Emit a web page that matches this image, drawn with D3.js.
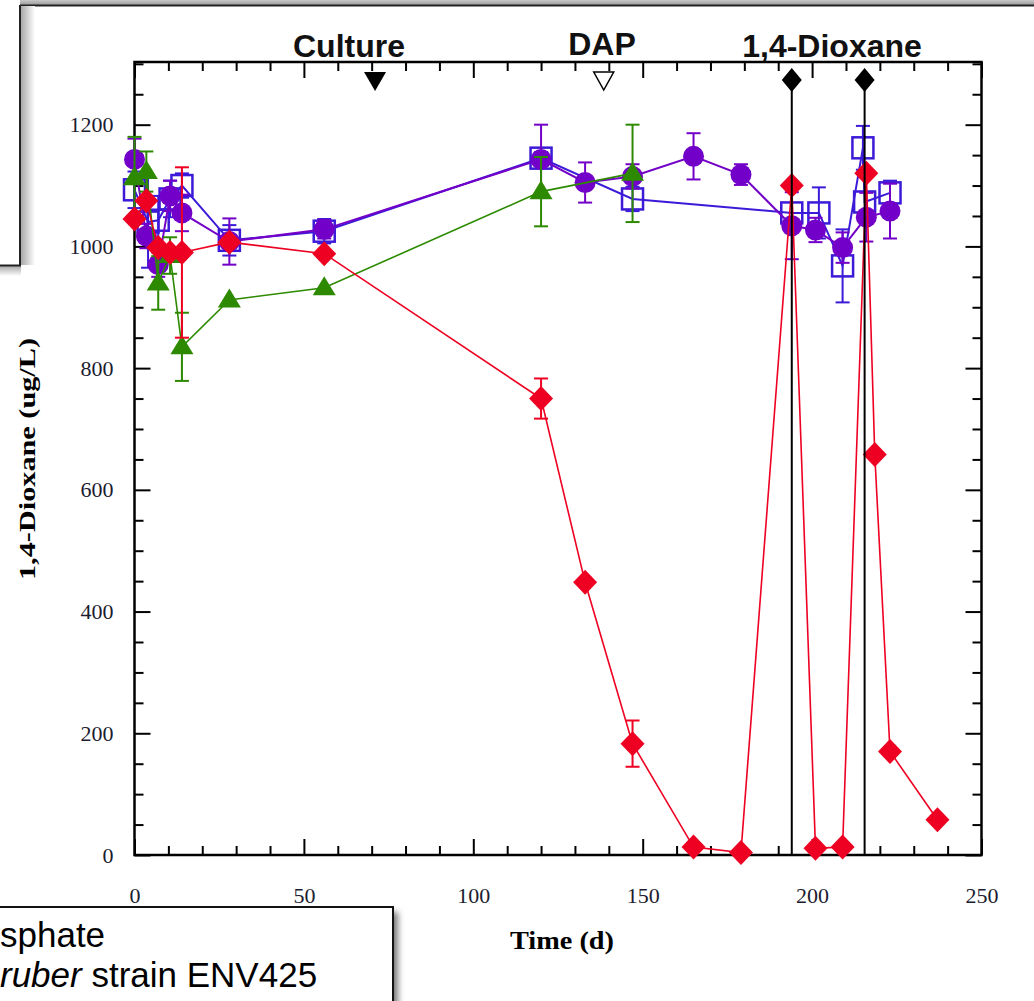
<!DOCTYPE html>
<html><head><meta charset="utf-8">
<script src="https://cdn.jsdelivr.net/npm/d3@7"></script>
<style>body{margin:0;background:#fff;overflow:hidden}svg{display:block}</style>
</head><body>
<svg id="c" width="1034" height="1001"></svg>
<script>
// ---- data ----
const xTickLabels = [0, 50, 100, 150, 200, 250];
const yTickLabels = [0, 200, 400, 600, 800, 1000, 1200];

const redDays = [0, 3.5, 7, 10.5, 14, 28, 56, 120, 133, 147, 165, 179, 194, 201, 209, 216, 218.5, 223, 237];
const redVals = [1045, 1075, 998, 990, 990, 1007, 988, 750, 448, 183, 13, 4, 1100, 11, 13, 1120, 658, 170, 58];
const redErr  = [0, 0, 0, 0, 140, 0, 0, 33, 0, 38, 0, 0, 0, 0, 0, 0, 0, 0, 0];

const greenDays = [0, 3.5, 7, 10.5, 14, 28, 56, 120, 147];
const greenVals = [1113, 1123, 940, 985, 835, 912, 932, 1090, 1120];
const greenErr  = [67, 33, 44, 30, 56, 0, 0, 57, 80];

const purpleDays = [0, 3.5, 7, 10.5, 14, 28, 56, 120, 133, 147, 165, 179, 194, 201, 209, 216, 223];
const purpleVals = [1143, 1017, 970, 1083, 1055, 1008, 1028, 1143, 1105, 1115, 1148, 1118, 1034, 1027, 998, 1048, 1058];
const purpleErr  = [34, 20, 20, 25, 30, 38, 15, 57, 33, 20, 38, 17, 55, 20, 25, 40, 45];

const blueDays = [0, 4, 7, 10.5, 14, 28, 56, 120, 147, 194, 202, 209, 215, 215.5, 223];
const blueVals = [1093, 1040, 1043, 1078, 1100, 1010, 1025, 1145, 1078, 1055, 1055, 968, 1162, 1073, 1088];
const blueErr  = [30, 75, 40, 30, 20, 25, 20, 10, 20, 0, 42, 60, 36, 0, 20];

const cultureDay = 71;
const dapDay = 138.5;
const dioxaneDays = [194, 215.5];

// ---- chart ----
const svg = d3.select("#c");
const x = d3.scaleLinear().domain([0, 250]).range([134.5, 981.5]);
const y = d3.scaleLinear().domain([0, 1303]).range([855, 62]);

// slide decorations
const defs = svg.append("defs");
const g1 = defs.append("linearGradient").attr("id", "shR").attr("x1", 0).attr("x2", 1).attr("y1", 0).attr("y2", 0);
g1.append("stop").attr("offset", 0).attr("stop-color", "#a8a8a8");
g1.append("stop").attr("offset", 1).attr("stop-color", "#ffffff");
const g2 = defs.append("linearGradient").attr("id", "shB").attr("x1", 0).attr("x2", 0).attr("y1", 0).attr("y2", 1);
g2.append("stop").attr("offset", 0).attr("stop-color", "#a8a8a8");
g2.append("stop").attr("offset", 1).attr("stop-color", "#ffffff");
const g3 = defs.append("linearGradient").attr("id", "topBand").attr("x1", 0).attr("x2", 0).attr("y1", 0).attr("y2", 1);
g3.append("stop").attr("offset", 0).attr("stop-color", "#c8c8c8");
g3.append("stop").attr("offset", 1).attr("stop-color", "#9a9a9a");
const f = defs.append("filter").attr("id", "blur").attr("x", "-20%").attr("y", "-20%").attr("width", "140%").attr("height", "140%");
f.append("feGaussianBlur").attr("stdDeviation", 3);

// top gray band
svg.append("rect").attr("x", 20).attr("y", 0).attr("width", 1014).attr("height", 5).attr("fill", "url(#topBand)");
svg.append("line").attr("x1", 20).attr("x2", 1034).attr("y1", 5.5).attr("y2", 5.5).attr("stroke", "#222").attr("stroke-width", 2);
// left box edge with shadow
svg.append("rect").attr("x", 21).attr("y", 6).attr("width", 14).attr("height", 259).attr("fill", "url(#shR)");
svg.append("rect").attr("x", 0).attr("y", 266).attr("width", 21).attr("height", 10).attr("fill", "url(#shB)");
svg.append("path").attr("d", "M20,5 V265.5 H0").attr("fill", "none").attr("stroke", "#222").attr("stroke-width", 2);

// plot axes
const ax = svg.append("g");
const majX = d3.range(0, 251, 50), minX = d3.range(0, 251, 10).filter(d => d % 50);
const majY = d3.range(0, 1301, 200), minY = d3.range(0, 1301, 50).filter(d => d % 200);

function ticks(axisFn, scale, vals, size, tr) {
  const gg = ax.append("g").attr("transform", tr)
    .call(axisFn(scale).tickValues(vals).tickSize(size).tickFormat("").tickSizeOuter(0));
  gg.select(".domain").remove();
  gg.selectAll("line").attr("stroke", "#000").attr("stroke-width", 2);
}
ticks(d3.axisBottom, x, majX, -16, "translate(0,855)");
ticks(d3.axisBottom, x, minX, -9, "translate(0,855)");
ticks(d3.axisTop, x, majX, -16, "translate(0,62)");
ticks(d3.axisTop, x, minX, -9, "translate(0,62)");
ticks(d3.axisLeft, y, majY, -16, "translate(134.5,0)");
ticks(d3.axisLeft, y, minY, -9, "translate(134.5,0)");
ticks(d3.axisRight, y, majY, -16, "translate(981.5,0)");
ticks(d3.axisRight, y, minY, -9, "translate(981.5,0)");

ax.append("rect").attr("x", 134.5).attr("y", 62).attr("width", 847).attr("height", 793)
  .attr("fill", "none").attr("stroke", "#000").attr("stroke-width", 2.5);

const xl = ax.append("g").attr("transform", "translate(0,855)")
  .call(d3.axisBottom(x).tickValues(xTickLabels).tickSize(0).tickPadding(32).tickFormat(d3.format("d")));
xl.select(".domain").remove();
xl.selectAll("text").attr("font-family", "Liberation Serif, Times New Roman, serif").attr("font-size", 22).attr("fill", "#1c1c30");

const yl = ax.append("g").attr("transform", "translate(134.5,0)")
  .call(d3.axisLeft(y).tickValues(yTickLabels).tickSize(0).tickPadding(21).tickFormat(d3.format("d")));
yl.select(".domain").remove();
yl.selectAll("text").attr("font-family", "Liberation Serif, Times New Roman, serif").attr("font-size", 22).attr("fill", "#1c1c30");

// axis titles
svg.append("text").attr("x", 562).attr("y", 949).attr("text-anchor", "middle")
  .attr("font-family", "Liberation Serif, serif").attr("font-weight", "bold").attr("font-size", 25)
  .attr("textLength", 104).attr("lengthAdjust", "spacingAndGlyphs").text("Time (d)");
svg.append("text").attr("transform", "translate(35,459) rotate(-90)").attr("text-anchor", "middle")
  .attr("font-family", "Liberation Serif, serif").attr("font-weight", "bold").attr("font-size", 24)
  .attr("textLength", 242).attr("lengthAdjust", "spacingAndGlyphs").text("1,4-Dioxane (ug/L)");

// series
const diamond = "M0,-12.5 L12,0 L0,12.5 L-12,0 Z";
const triangle = "M0,-11.5 L11.5,7.5 L-11.5,7.5 Z";
const plot = svg.append("g");

function series(days, vals, errs, color, lw, marker) {
  const data = days.map((d, i) => ({d, v: vals[i], e: errs[i]}));
  const g = plot.append("g");
  g.append("path").datum(data)
    .attr("d", d3.line().x(p => x(p.d)).y(p => y(p.v)))
    .attr("fill", "none").attr("stroke", color).attr("stroke-width", lw);
  const eb = g.append("g").selectAll("g").data(data.filter(p => p.e > 0)).join("g")
    .attr("stroke", color).attr("stroke-width", 2);
  eb.append("line").attr("x1", p => x(p.d)).attr("x2", p => x(p.d))
    .attr("y1", p => y(p.v - p.e)).attr("y2", p => y(p.v + p.e));
  eb.append("line").attr("x1", p => x(p.d) - 7).attr("x2", p => x(p.d) + 7)
    .attr("y1", p => y(p.v - p.e)).attr("y2", p => y(p.v - p.e));
  eb.append("line").attr("x1", p => x(p.d) - 7).attr("x2", p => x(p.d) + 7)
    .attr("y1", p => y(p.v + p.e)).attr("y2", p => y(p.v + p.e));
  const m = g.append("g").selectAll("g").data(data).join("g")
    .attr("transform", p => `translate(${x(p.d)},${y(p.v)})`);
  marker(m, color);
}

series(blueDays, blueVals, blueErr, "#3c1ad8", 2, (m, c) =>
  m.append("rect").attr("x", -10.5).attr("y", -10.5).attr("width", 21).attr("height", 21)
    .attr("fill", "none").attr("stroke", c).attr("stroke-width", 2.5));
series(purpleDays, purpleVals, purpleErr, "#7300c8", 2, (m, c) =>
  m.append("circle").attr("r", 10.5).attr("fill", c));
series(greenDays, greenVals, greenErr, "#2d8a00", 1.6, (m, c) =>
  m.append("path").attr("d", triangle).attr("fill", c));
series(redDays, redVals, redErr, "#ee0022", 1.6, (m, c) =>
  m.append("path").attr("d", diamond).attr("fill", c));

// event annotations
const ev = svg.append("g");
ev.selectAll("line.sp").data(dioxaneDays).join("line")
  .attr("x1", d => x(d)).attr("x2", d => x(d)).attr("y1", 80).attr("y2", 855)
  .attr("stroke", "#000").attr("stroke-width", 2);
ev.selectAll("path.dm").data(dioxaneDays).join("path")
  .attr("transform", d => `translate(${x(d)},80)`)
  .attr("d", "M0,-12 L10,0 L0,12 L-10,0 Z").attr("fill", "#000");
ev.append("path").attr("transform", `translate(${x(cultureDay)},72)`)
  .attr("d", "M-11,0 L11,0 L0,19 Z").attr("fill", "#000");
ev.append("path").attr("transform", `translate(${x(dapDay)},72)`)
  .attr("d", "M-10,0 L10,0 L0,18 Z").attr("fill", "#fff").attr("stroke", "#000").attr("stroke-width", 1.5);

const lab = svg.append("g").attr("font-family", "Liberation Sans, Arial, sans-serif")
  .attr("font-weight", "bold").attr("font-size", 32).attr("text-anchor", "middle").attr("fill", "#111");
lab.append("text").attr("x", 349).attr("y", 57).text("Culture");
lab.append("text").attr("x", 602).attr("y", 55).text("DAP");
lab.append("text").attr("x", 832).attr("y", 57).text("1,4-Dioxane");

// bottom-left legend fragment box
svg.append("rect").attr("x", -10).attr("y", 912).attr("width", 408).attr("height", 110)
  .attr("fill", "#777").attr("filter", "url(#blur)");
svg.append("rect").attr("x", -10).attr("y", 907).attr("width", 403).attr("height", 110)
  .attr("fill", "#fff").attr("stroke", "#111").attr("stroke-width", 2);
const lt = svg.append("g").attr("font-family", "Liberation Sans, Arial, sans-serif").attr("font-size", 35).attr("fill", "#000");
lt.append("text").attr("x", 0).attr("y", 947).text("sphate");
const t2 = lt.append("text").attr("x", 0).attr("y", 987);
t2.append("tspan").attr("font-style", "italic").text("ruber");
t2.append("tspan").text(" strain ENV425");
</script>
</body></html>
